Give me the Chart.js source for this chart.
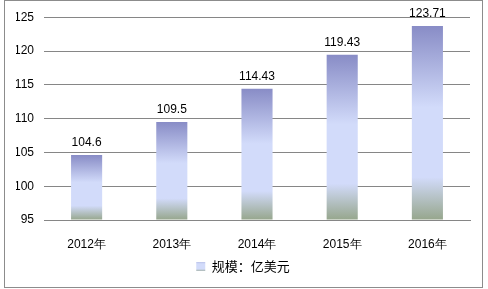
<!DOCTYPE html>
<html>
<head>
<meta charset="utf-8">
<script src="https://cdn.jsdelivr.net/npm/chart.js"></script>
<style>
    body { margin: 0; background: #fff; }
    #box { position: absolute; left: 4px; top: 0; width: 477px; height: 286px; border: 1px solid #8c8c8c; }
    #wrap { position: absolute; left: 0; top: 0; width: 488px; height: 289px; }
</style>
</head>
<body>
<div id="box"></div>
<div id="wrap"><canvas id="chart1" width="488" height="289"></canvas></div>
<script>
    const years = ['2012年', '2013年', '2014年', '2015年', '2016年'];
    const scale = [104.6, 109.5, 114.43, 119.43, 123.71];
    const valueText = ['104.6', '109.5', '114.43', '119.43', '123.71'];
    const seriesName = '规模：亿美元';
    const yMin = 95, yMax = 125, yStep = 5;

    function barFill(ctx, top, bottom) {
        const g = ctx.createLinearGradient(0, top, 0, bottom);
        g.addColorStop(0, '#888cc6');
        g.addColorStop(0.42, '#d2dbfa');
        g.addColorStop(0.78, '#d2dbfa');
        g.addColorStop(1, '#96a68c');
        return g;
    }

    const valueLabels = {
        id: 'valueLabels',
        afterDatasetsDraw(chart) {
            const c = chart.ctx;
            const meta = chart.getDatasetMeta(0);
            c.save();
            c.font = '12px "Liberation Sans", Arial, sans-serif';
            c.fillStyle = '#000';
            c.textAlign = 'center';
            c.textBaseline = 'alphabetic';
            meta.data.forEach((bar, i) => {
                c.fillText(valueText[i], bar.x, bar.y - 9);
            });
            c.restore();
        }
    };

    new Chart(document.getElementById('chart1'), {
        type: 'bar',
        data: {
            labels: years,
            datasets: [{
                label: seriesName,
                data: scale,
                base: yMin,
                backgroundColor: function (context) {
                    const chart = context.chart;
                    if (context.type !== 'data' || !chart.scales.y) {
                        return barFill(chart.ctx, 0, 10);
                    }
                    const y = chart.scales.y;
                    return barFill(chart.ctx, y.getPixelForValue(context.raw), y.getPixelForValue(yMin));
                },
                categoryPercentage: 1,
                barPercentage: 0.365
            }]
        },
        options: {
            responsive: false,
            animation: false,
            devicePixelRatio: 1,
            layout: { padding: { left: 16, right: 18, top: 15, bottom: 6 } },
            scales: {
                x: {
                    grid: { display: false },
                    border: { display: true, color: '#868686' },
                    ticks: { color: '#000', padding: 9, font: { size: 12, family: '"Liberation Sans", Arial, sans-serif' } },
                    afterFit(s) { s.height = 30; }
                },
                y: {
                    min: yMin, max: yMax,
                    grid: { color: '#868686', drawTicks: false },
                    border: { display: false },
                    ticks: { stepSize: yStep, color: '#000', padding: 10, font: { size: 12, family: '"Liberation Sans", Arial, sans-serif' } },
                    afterFit(s) { s.width = 28; }
                }
            },
            plugins: {
                tooltip: { enabled: false },
                legend: {
                    position: 'bottom',
                    labels: {
                        color: '#000',
                        boxWidth: 9, boxHeight: 9,
                        padding: 10,
                        font: { size: 13, family: '"Noto Sans CJK SC", sans-serif' },
                        generateLabels(chart) {
                            return [{
                                text: seriesName,
                                fillStyle: barFill(chart.ctx, 258, 272),
                                strokeStyle: 'rgba(0,0,0,0)',
                                lineWidth: 0,
                                datasetIndex: 0
                            }];
                        }
                    }
                }
            }
        },
        plugins: [valueLabels]
    });
</script>
</body>
</html>
